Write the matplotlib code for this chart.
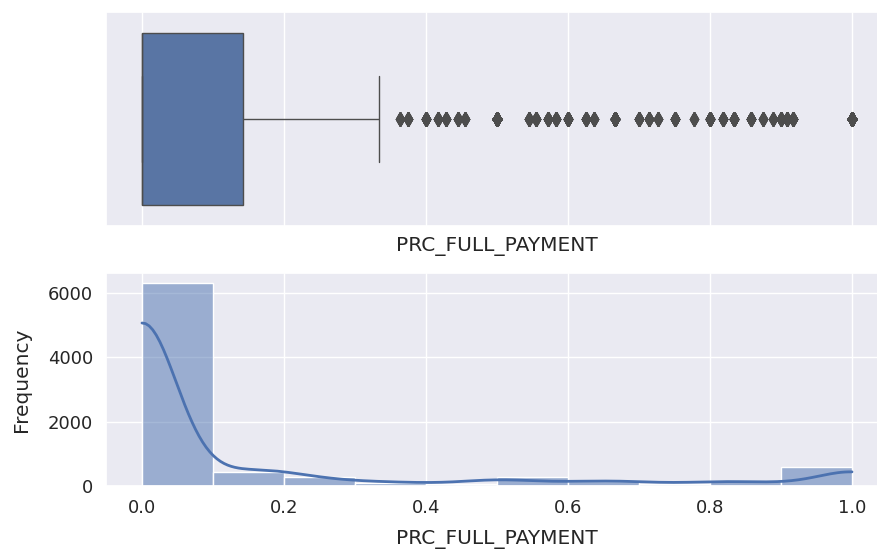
import numpy as np
import pandas as pd
import matplotlib
matplotlib.use("Agg")
import matplotlib.pyplot as plt
import seaborn as sns

# distinct PRC_FULL_PAYMENT values and how many customers have each one
values = [0.0, 0.083333, 0.090909,
          0.1, 0.111111, 0.125, 0.142857, 0.166667, 0.181818,
          0.2, 0.222222, 0.25, 0.272727,
          0.3, 0.333333, 0.363636, 0.375,
          0.4, 0.416667, 0.428571, 0.444444, 0.454545,
          0.5, 0.545455, 0.555556, 0.571429, 0.583333,
          0.6, 0.625, 0.636364, 0.666667,
          0.7, 0.714286, 0.727273, 0.75, 0.777778,
          0.8, 0.818182, 0.833333, 0.857143, 0.875, 0.888889,
          0.9, 0.909091, 0.916667, 1.0]
counts = [6060, 110, 130,
          2, 1, 1, 170, 140, 116,
          90, 50, 100, 40,
          10, 90, 5, 10,
          30, 10, 12, 10, 8,
          180, 10, 15, 18, 17,
          40, 20, 8, 107,
          15, 14, 8, 28, 5,
          50, 20, 48, 25, 7, 5,
          20, 17, 18, 520]

col = "PRC_FULL_PAYMENT"
df = pd.DataFrame({col: np.repeat(values, counts)})

sns.set_theme(rc={"axes.labelsize": 14.5,
                  "xtick.labelsize": 13,
                  "ytick.labelsize": 13})

fig, (ax1, ax2) = plt.subplots(2, 1, figsize=(8.78, 5.53), dpi=100)

sns.boxplot(x=df[col], ax=ax1, linecolor="0.3",
            flierprops=dict(marker="d", markersize=7,
                            markerfacecolor="0.3", markeredgecolor="0.3"))
sns.histplot(df[col], bins=10, kde=True, ax=ax2, line_kws=dict(linewidth=2))
ax2.set_ylabel("Frequency", labelpad=12)
ax2.set_xlabel(col, labelpad=9)

ax1.set_xlim(ax2.get_xlim())
ax1.tick_params(axis="x", labelbottom=False)
ax1.set_xlabel(col, labelpad=8)

ax1.set_position([106.5 / 878, 327 / 553, 781 / 878, 214 / 553])
ax2.set_position([106.5 / 878, 67 / 553, 781 / 878, 213.3 / 553])

fig.savefig("out.png", dpi=100)
